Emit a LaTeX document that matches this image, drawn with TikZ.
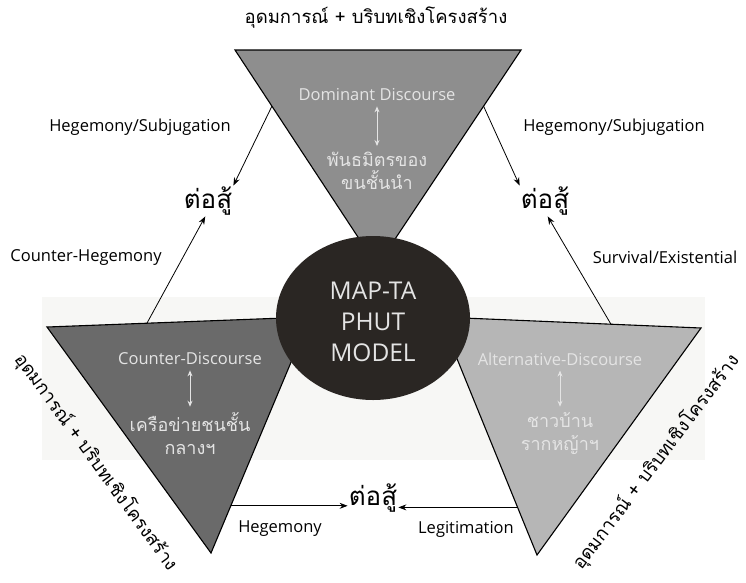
\documentclass[tikz,border=0pt]{standalone}
\usepackage{fontspec}
\setmainfont{Open Sans}
\newfontfamily\thai[Script=Thai]{Loma}
\usetikzlibrary{arrows.meta,calc,shapes.geometric}
\definecolor{topfill}{HTML}{8E8E8E}
\definecolor{leftfill}{HTML}{6A6A6A}
\definecolor{rightfill}{HTML}{B6B6B6}
\definecolor{hub}{HTML}{2A2623}
\definecolor{innertxt}{HTML}{E4E4E4}
\definecolor{band}{HTML}{F7F7F5}
\begin{document}
\begin{tikzpicture}[x=1pt,y=-1pt,
  tri/.style={draw=black,line width=1.1pt},
  arr/.style={draw=black,line width=0.8pt,-{Stealth[length=8pt,width=6pt]}},
  dbl/.style={draw=innertxt,line width=0.9pt,{Stealth[length=6pt,width=5pt]}-{Stealth[length=6pt,width=5pt]}},
  lbl/.style={font=\fontsize{16.5}{18}\selectfont,inner sep=0pt},
  fight/.style={font=\thai\fontsize{26}{28}\selectfont,inner sep=1pt},
  title/.style={font=\thai\fontsize{18.5}{20}\selectfont,inner sep=0pt},
  inner/.style={font=\fontsize{16.5}{18}\selectfont,text=innertxt,inner sep=0pt},
  innerthai/.style={font=\thai\fontsize{18}{23}\selectfont,text=innertxt,align=center,inner sep=0pt}]
\useasboundingbox (0,0) rectangle (746,582);
\fill[band] (42,297) rectangle (705,460);
% triangles
\coordinate (TL) at (235,50); \coordinate (TR) at (521,50); \coordinate (TA) at (377,266);
\coordinate (L1) at (47,327); \coordinate (L2) at (310,317); \coordinate (LA) at (211,553);
\coordinate (R1) at (440,317); \coordinate (R2) at (701,328); \coordinate (RA) at (537,555);
\draw[tri,fill=topfill] (TL) -- (TR) -- (TA) -- cycle;
\draw[tri,fill=leftfill] (L1) -- (L2) -- (LA) -- cycle;
\draw[tri,fill=rightfill] (R1) -- (R2) -- (RA) -- cycle;
% hub
\node[ellipse,fill=hub,minimum width=194pt,minimum height=164pt,inner sep=0pt] (hub) at (373,318) {};
\node[font=\fontsize{24.5}{31}\selectfont,text=innertxt,align=center] (hubtxt) at (373,322) {MAP-TA\\PHUT\\MODEL};
% titles
\node[title] (ttop) at (376,18) {อุดมการณ์ + บริบทเชิงโครงสร้าง};
\node[title,rotate=-54] (tleft) at (96,462) {อุดมการณ์ + บริบทเชิงโครงสร้าง};
\node[title,rotate=53] (tright) at (656,462) {อุดมการณ์ + บริบทเชิงโครงสร้าง};
% inner texts
\node[inner] (dd) at (377,95) {Dominant Discourse};
\node[innerthai] (dt) at (377,171) {พันธมิตรของ\\ขนชั้นนำ};
\draw[dbl] ($(dd.south)+(0,5)$) coordinate (dd1) -- ($(dt.north)+(0,-6)$) coordinate (dt1);
\node[inner] (cd) at (190,359) {Counter-Discourse};
\node[innerthai] (ct) at (190,434) {เครือข่ายชนชั้น\\กลางฯ};
\draw[dbl] ($(cd.south)+(0,5)$) coordinate (cd1) -- ($(ct.north)+(0,-6)$) coordinate (ct1);
\node[inner] (ad) at (560,359) {Alternative-Discourse};
\node[innerthai] (at) at (560,434) {ชาวบ้าน\\รากหญ้าฯ};
\draw[dbl] ($(ad.south)+(0,5)$) coordinate (ad1) -- ($(at.north)+(0,-6)$) coordinate (at1);
% fight nodes
\node[fight] (fl) at (208,201) {ต่อสู้};
\node[fight] (fr) at (545,201) {ต่อสู้};
\node[fight] (fb) at (373,498) {ต่อสู้};
% labels
\node[lbl] (h1) at (140,127) {Hegemony/Subjugation};
\node[lbl] (h2) at (614,127) {Hegemony/Subjugation};
\node[lbl] (ch) at (86,257) {Counter-Hegemony};
\node[lbl] (se) at (665,257) {Survival/Existential};
\node[lbl] (hg) at (280,529) {Hegemony};
\node[lbl] (lg) at (466,529) {Legitimation};
% connectors
\coordinate (s1) at ($(TL)!0.26!(TA)$);
\coordinate (s2) at ($(TR)!0.26!(TA)$);
\coordinate (s3) at ($(L1)!0.38!(L2)$);
\coordinate (s4) at ($(R1)!0.655!(R2)$);
\coordinate (s5) at ($(LA)!0.2!(L2)$);
\coordinate (s6) at ($(RA)!0.2!(R1)$);
\draw[arr] (s1) -- (fl.north east);
\draw[arr] (s2) -- (fr.north west);
\draw[arr] (s3) -- (fl.-100);
\draw[arr] (s4) -- (fr.-80);
\draw[arr] (s5) -- (fb.west |- s5);
\draw[arr] (s6) -- (fb.east |- s6);
\end{tikzpicture}
\end{document}
